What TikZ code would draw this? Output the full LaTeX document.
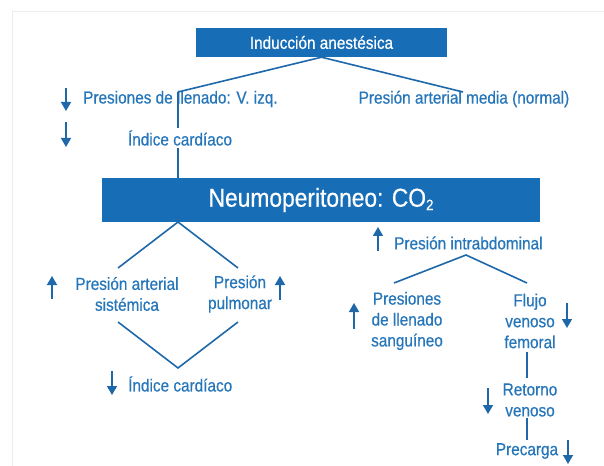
\documentclass[tikz,border=0pt]{standalone}
\usepackage{fontspec}
\setmainfont{Liberation Sans}[FakeStretch=0.88,FakeBold=0.5]
\usetikzlibrary{arrows.meta}
\definecolor{boxblue}{RGB}{24,110,182}
\definecolor{txtblue}{RGB}{38,118,186}
\definecolor{lnblue}{RGB}{30,104,170}
\tikzset{
  x=1bp, y=-1bp,
  bluebox/.style={fill=boxblue, draw=none, text=white, inner sep=0pt, minimum height=#1},
  lbl/.style={text=txtblue, inner sep=0pt, align=center, font=\fontsize{17.5}{21}\selectfont},
  conn/.style={draw=lnblue, line width=1.6bp},
  trend/.style={draw=lnblue, line width=1.5bp, -{Triangle[width=10bp,length=9bp]}},
}
\begin{document}
\begin{tikzpicture}
\useasboundingbox (0,0) rectangle (604,466);
\fill[white] (0,0) rectangle (604,466);
\draw[gray!15, line width=1bp] (604,12) -- (12,12) -- (12,466);

% boxes
\node[bluebox=29bp, minimum width=251bp, font=\fontsize{17.5}{21}\selectfont] (ind) at (321.5,42.5) {Inducción anestésica};
\node[bluebox=44bp, minimum width=438bp, font=\fontsize{26}{30}\selectfont] (neu) at (321,200) {Neumoperitoneo: CO\raisebox{-0.25ex}{\fontsize{15}{15}\selectfont 2}};

% labels
\node[lbl, anchor=west] (pll) at (83,99) {Presiones de llenado: V. izq.};
\node[lbl] (pam) at (464,99) {Presión arterial media (normal)};
\node[lbl] (ic1) at (180,138) {Índice cardíaco};
\node[lbl] (pas) at (127,294) {Presión arterial\\sistémica};
\node[lbl] (pp) at (240,294) {Presión\\pulmonar};
\node[lbl, anchor=west] (ic2) at (128,384) {Índice cardíaco};
\node[lbl, anchor=west] (pia) at (394,243) {Presión intrabdominal};
\node[lbl] (pls) at (407,321) {Presiones\\de llenado\\sanguíneo};
\node[lbl] (fvf) at (530,321) {Flujo\\venoso\\femoral};
\node[lbl] (rv) at (530,400) {Retorno\\venoso};
\node[lbl] (pre) at (527,451) {Precarga};

% connector end points
\coordinate (a1) at (178,92);
\coordinate (a2) at (463,92);
\coordinate (b1) at (178,128);
\coordinate (c1) at (178,148);
\coordinate (c2) at (178,178);
\coordinate (d0) at (178,222);
\coordinate (d1) at (118,268);
\coordinate (d2) at (238,268);
\coordinate (e1) at (118,322);
\coordinate (e0) at (178,368);
\coordinate (e2) at (238,322);
\coordinate (f0) at (466,255);
\coordinate (f1) at (394,283);
\coordinate (f2) at (527,283);
\coordinate (g1) at (527,352);
\coordinate (g2) at (527,378);
\coordinate (h1) at (527,418);
\coordinate (h2) at (527,440);

\draw[conn] (ind.south) -- (a1);
\draw[conn] (ind.south) -- (a2);
\draw[conn] (a1) -- (b1);
\draw[conn] (c1) -- (c2);
\draw[conn] (d1) -- (d0) -- (d2);
\draw[conn] (e1) -- (e0) -- (e2);
\draw[conn] (f1) -- (f0) -- (f2);
\draw[conn] (g1) -- (g2);
\draw[conn] (h1) -- (h2);

% trend arrows
\draw[trend] (66,88) -- (66,111);
\draw[trend] (66,122) -- (66,147);
\draw[trend] (52,299) -- (52,276);
\draw[trend] (280,300) -- (280,276);
\draw[trend] (112,371) -- (112,395);
\draw[trend] (378,251) -- (378,227);
\draw[trend] (354,329) -- (354,303);
\draw[trend] (567,303) -- (567,328);
\draw[trend] (488,388) -- (488,414);
\draw[trend] (568,440) -- (568,464);
\end{tikzpicture}
\end{document}
